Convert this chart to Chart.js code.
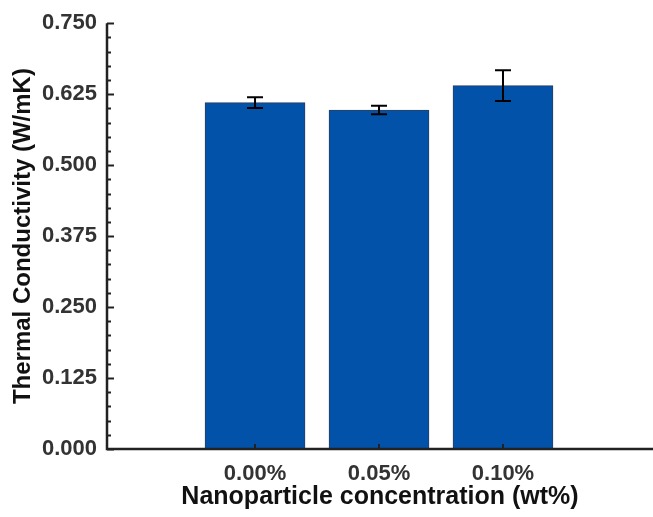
<!DOCTYPE html>
<html><head><meta charset="utf-8">
<script src="https://cdn.jsdelivr.net/npm/chart.js@4/dist/chart.umd.min.js"></script>
<style>html,body{margin:0;padding:0;background:#fff}#wrap{width:653px;height:517px;position:relative}canvas{display:block}</style>
</head><body><div id="wrap"><canvas id="c" width="653" height="517"></canvas></div>
<script>
const categories = ['0.00%', '0.05%', '0.10%'];
const positions = [1, 2, 3];
const conductivity = [0.610, 0.597, 0.640];
const errors = [0.0095, 0.0075, 0.027];
const yTicks = [0, 0.125, 0.25, 0.375, 0.5, 0.625, 0.75];
const yMinorStep = 0.025;

const FONT = "'Liberation Sans', Arial, sans-serif";

const decorations = {
  id: 'decorations',
  afterDatasetsDraw(chart) {
    const {ctx, chartArea: a, scales: {x, y}} = chart;
    ctx.save();
    ctx.lineCap = 'butt';
    // error bars
    ctx.lineWidth = 2;
    ctx.strokeStyle = '#000';
    positions.forEach((p, i) => {
      const px = x.getPixelForValue(p);
      const yt = y.getPixelForValue(conductivity[i] + errors[i]);
      const yb = y.getPixelForValue(conductivity[i] - errors[i]);
      ctx.beginPath();
      ctx.moveTo(px, yt); ctx.lineTo(px, yb);
      ctx.moveTo(px - 8, yt); ctx.lineTo(px + 8, yt);
      ctx.moveTo(px - 8, yb); ctx.lineTo(px + 8, yb);
      ctx.stroke();
    });
    // y inward ticks
    ctx.strokeStyle = '#222';
    ctx.lineWidth = 2;
    const nMinor = Math.round(yTicks[yTicks.length - 1] / yMinorStep);
    for (let k = 0; k <= nMinor; k++) {
      const v = k * yMinorStep;
      const major = (k % 5) === 0;
      const py = Math.round(y.getPixelForValue(v)) + 0.5;
      ctx.beginPath();
      ctx.moveTo(a.left, py);
      ctx.lineTo(a.left + (major ? 7 : 4), py);
      ctx.stroke();
    }
    // x inward ticks
    positions.forEach(p => {
      const px = Math.round(x.getPixelForValue(p));
      ctx.beginPath();
      ctx.moveTo(px, a.bottom);
      ctx.lineTo(px, a.bottom - 5);
      ctx.stroke();
    });
    // axis lines
    ctx.lineWidth = 2.5;
    ctx.beginPath();
    ctx.moveTo(a.left, a.top);
    ctx.lineTo(a.left, a.bottom);
    ctx.lineTo(a.right, a.bottom);
    ctx.stroke();
    ctx.restore();
  }
};

new Chart(document.getElementById('c'), {
  type: 'bar',
  data: {
    datasets: [{
      data: positions.map((p, i) => ({x: p, y: conductivity[i]})),
      backgroundColor: '#0352A9',
      borderColor: '#2d3f5e',
      borderWidth: 1,
      barThickness: 100
    }]
  },
  options: {
    responsive: false,
    animation: false,
    devicePixelRatio: 1,
    layout: {padding: {top: 22, right: 0, left: 0, bottom: 0}},
    plugins: {legend: {display: false}, tooltip: {enabled: false}},
    scales: {
      x: {
        type: 'linear',
        offset: false,
        min: -0.194,
        max: 4.21,
        grid: {display: false, drawTicks: false, offset: false},
        border: {display: false},
        afterBuildTicks: s => { s.ticks = positions.map(v => ({value: v})); },
        afterFit: s => { s.height = 68; },
        ticks: {
          padding: 12,
          color: '#333',
          font: {family: FONT, size: 22, weight: 'bold'},
          callback: v => categories[positions.indexOf(v)] ?? ''
        },
        title: {
          display: true,
          text: 'Nanoparticle concentration (wt%)',
          color: '#111',
          font: {family: FONT, size: 25, weight: 'bold'},
          padding: {top: 0, bottom: 5}
        }
      },
      y: {
        min: 0,
        max: 0.75,
        grid: {display: false, drawTicks: false},
        border: {display: false},
        afterBuildTicks: s => { s.ticks = yTicks.map(v => ({value: v})); },
        afterFit: s => { s.width = 107; },
        ticks: {
          padding: 10,
          color: '#333',
          font: {family: FONT, size: 22, weight: 'bold'},
          callback: v => Number(v).toFixed(3)
        },
        title: {
          display: true,
          text: 'Thermal Conductivity (W/mK)',
          color: '#111',
          font: {family: FONT, size: 24, weight: 'bold'},
          padding: {top: 9, bottom: 0}
        }
      }
    }
  },
  plugins: [decorations]
});
</script>
</body></html>
